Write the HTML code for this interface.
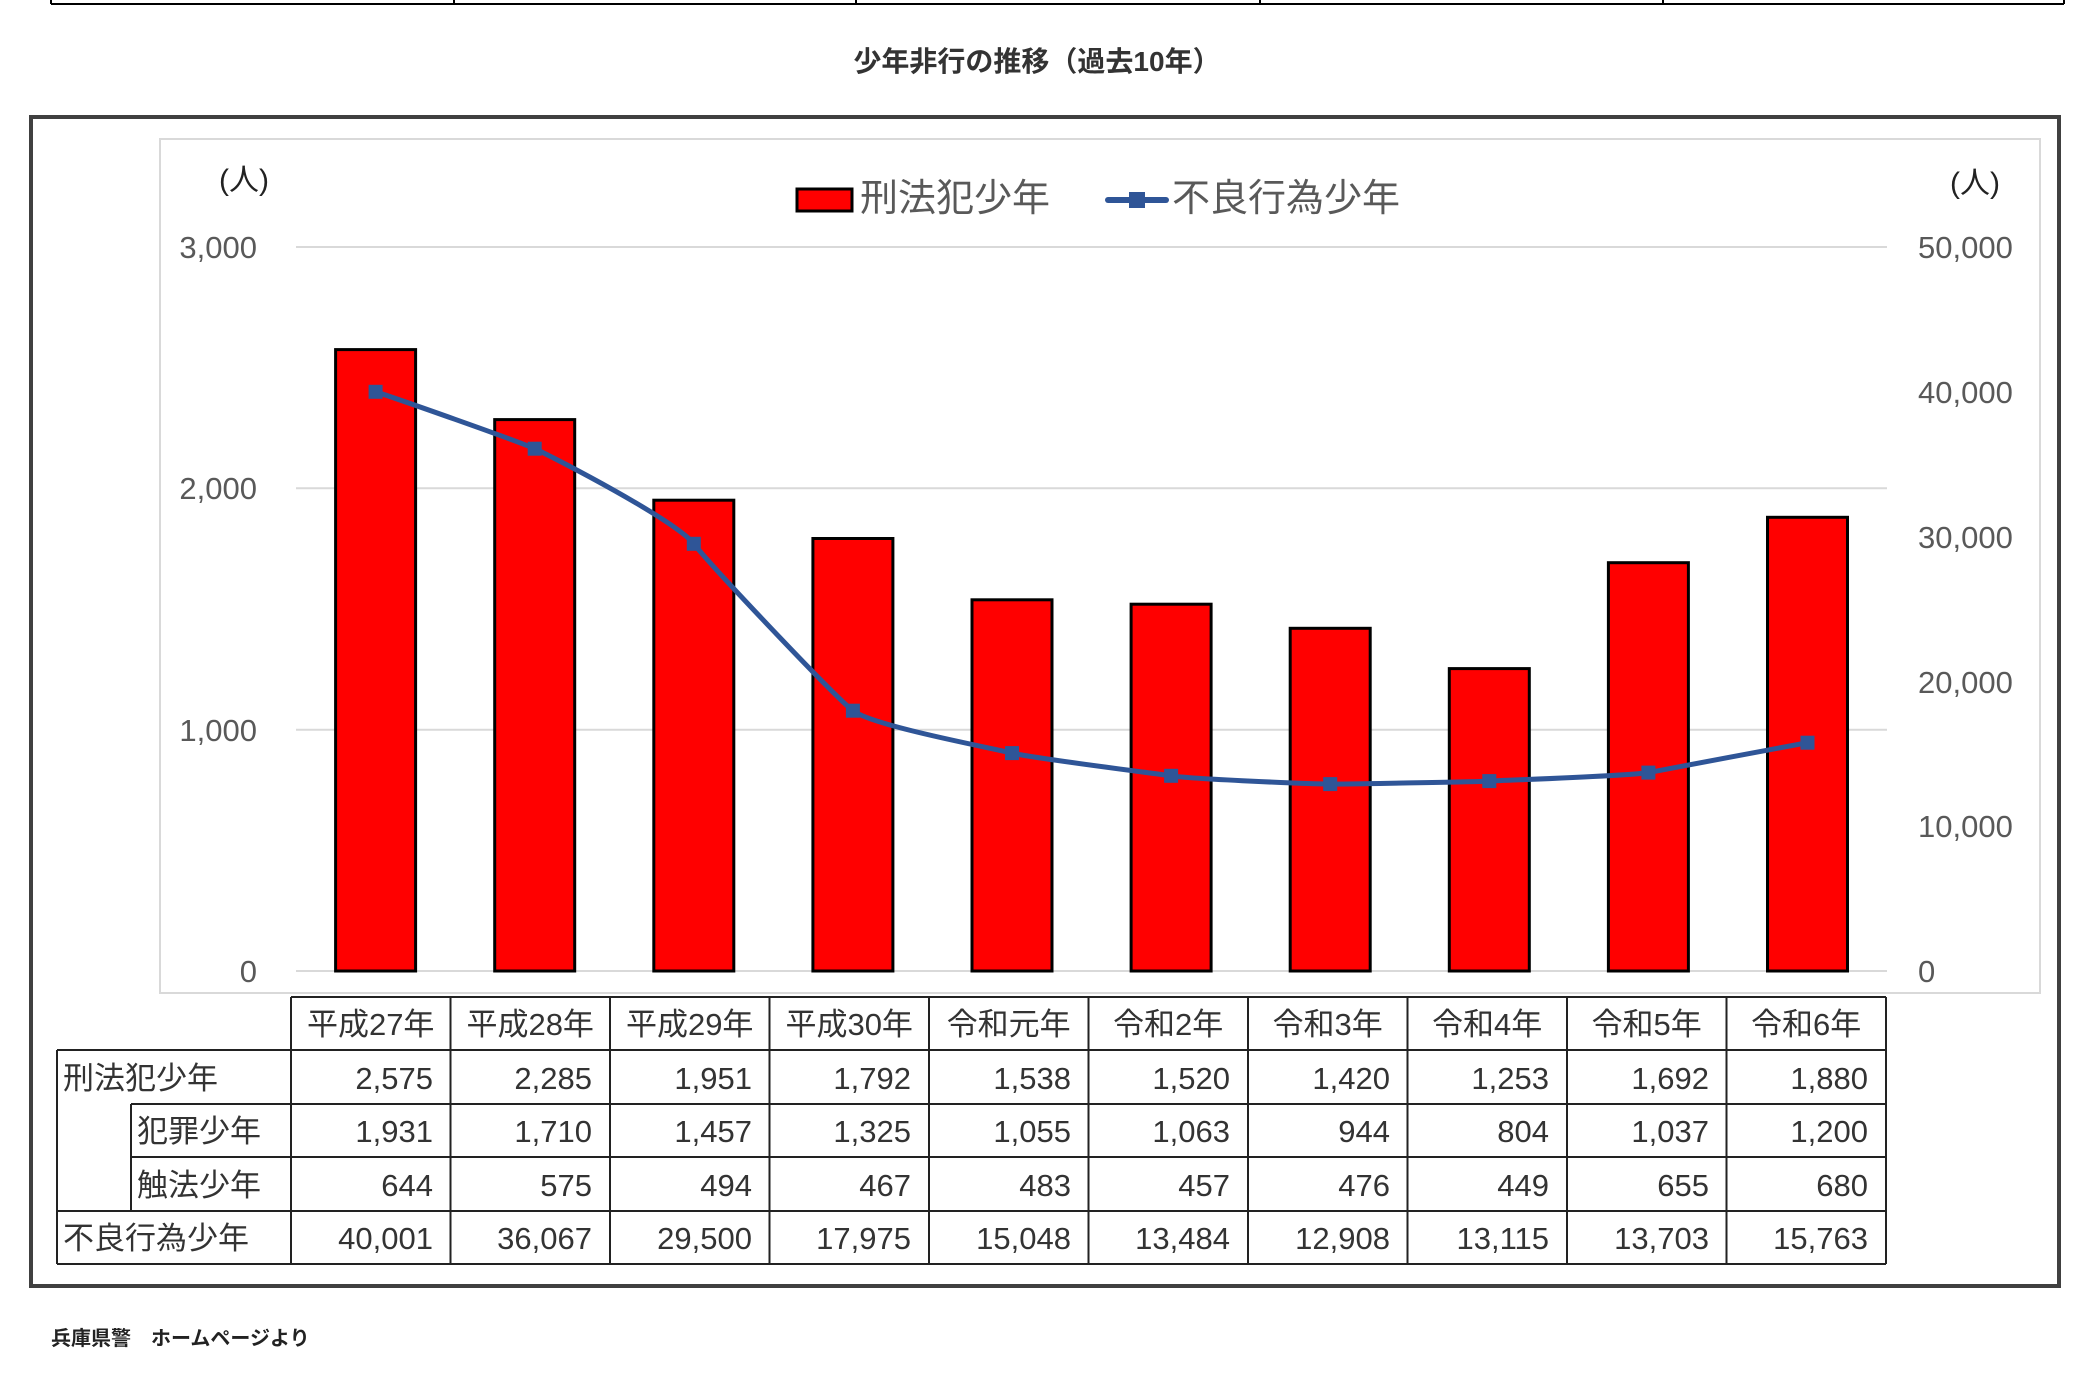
<!DOCTYPE html>
<html><head><meta charset="utf-8"><style>
html,body{margin:0;padding:0;background:#fff;}
svg{display:block;}
text{font-family:"Liberation Sans","Noto Sans CJK JP",sans-serif;}
</style></head><body>
<svg width="2087" height="1379" viewBox="0 0 2087 1379" xmlns="http://www.w3.org/2000/svg">
<g stroke="#000" stroke-width="2">
<line x1="51" y1="4" x2="2064" y2="4"/>
<line x1="51" y1="0" x2="51" y2="4"/><line x1="454" y1="0" x2="454" y2="4"/><line x1="856" y1="0" x2="856" y2="4"/><line x1="1260" y1="0" x2="1260" y2="4"/><line x1="1663" y1="0" x2="1663" y2="4"/><line x1="2064" y1="0" x2="2064" y2="4"/>
</g>
<text x="1037" y="71" font-size="28" font-weight="bold" fill="#333" text-anchor="middle">少年非行の推移（過去10年）</text>
<rect x="31" y="117" width="2028" height="1169" fill="none" stroke="#404040" stroke-width="4"/>
<rect x="160" y="139" width="1880" height="854" fill="#fff" stroke="#d9d9d9" stroke-width="2"/>
<g stroke="#d9d9d9" stroke-width="2">
<line x1="296" y1="247" x2="1887" y2="247"/>
<line x1="296" y1="488.3" x2="1887" y2="488.3"/>
<line x1="296" y1="729.7" x2="1887" y2="729.7"/>
<line x1="296" y1="971" x2="1887" y2="971"/>
</g>
<g font-size="31" fill="#595959">
<text x="257" y="258" text-anchor="end">3,000</text>
<text x="257" y="499" text-anchor="end">2,000</text>
<text x="257" y="741" text-anchor="end">1,000</text>
<text x="257" y="982" text-anchor="end">0</text>
<text x="1918" y="258">50,000</text>
<text x="1918" y="403">40,000</text>
<text x="1918" y="548">30,000</text>
<text x="1918" y="693">20,000</text>
<text x="1918" y="837">10,000</text>
<text x="1918" y="982">0</text>
</g>
<text x="244" y="190" font-size="30" fill="#222" text-anchor="middle">(人)</text>
<text x="1975" y="193" font-size="30" fill="#222" text-anchor="middle">(人)</text>
<rect x="797" y="189" width="55" height="22" fill="#f00" stroke="#000" stroke-width="3"/>
<text x="860" y="211" font-size="38" fill="#595959">刑法犯少年</text>
<line x1="1108" y1="200" x2="1166" y2="200" stroke="#2f5597" stroke-width="6" stroke-linecap="round"/>
<rect x="1129" y="192" width="16" height="16" fill="#2f5597"/>
<text x="1172" y="211" font-size="38" fill="#595959">不良行為少年</text>
<g fill="#f00" stroke="#000" stroke-width="3">
<rect x="335.6" y="349.6" width="80" height="621.4"/>
<rect x="494.7" y="419.6" width="80" height="551.4"/>
<rect x="653.8" y="500.2" width="80" height="470.8"/>
<rect x="812.9" y="538.5" width="80" height="432.5"/>
<rect x="972" y="599.8" width="80" height="371.2"/>
<rect x="1131.1" y="604.2" width="80" height="366.8"/>
<rect x="1290.2" y="628.3" width="80" height="342.7"/>
<rect x="1449.3" y="668.6" width="80" height="302.4"/>
<rect x="1608.4" y="562.7" width="80" height="408.3"/>
<rect x="1767.5" y="517.3" width="80" height="453.7"/>
</g>
<path d="M375.6,391.8 C395,398 515,440 534.7,448.7 C555,458 675,520 693.8,543.8 C713,568 833,695 852.9,710.7 C873,726 992,748 1012,753.1 C1032,758 1151,773 1171.1,775.8 C1191,779 1310,784 1330.2,784.1 C1350,784 1469,782 1489.3,781.1 C1509,780 1628,776 1648.4,772.6 C1668,769 1788,746 1807.5,742.7" fill="none" stroke="#2f5597" stroke-width="5"/>
<g fill="#2f5597">
<rect x="368.6" y="384.8" width="14" height="14"/>
<rect x="527.7" y="441.7" width="14" height="14"/>
<rect x="686.8" y="536.8" width="14" height="14"/>
<rect x="845.9" y="703.7" width="14" height="14"/>
<rect x="1005" y="746.1" width="14" height="14"/>
<rect x="1164.1" y="768.8" width="14" height="14"/>
<rect x="1323.2" y="777.1" width="14" height="14"/>
<rect x="1482.3" y="774.1" width="14" height="14"/>
<rect x="1641.4" y="765.6" width="14" height="14"/>
<rect x="1800.5" y="735.7" width="14" height="14"/>
</g>
<g stroke="#222" stroke-width="2" fill="none">
<line x1="291" y1="997" x2="1886" y2="997"/>
<line x1="57" y1="1050" x2="1886" y2="1050"/>
<line x1="131" y1="1104" x2="1886" y2="1104"/>
<line x1="131" y1="1157" x2="1886" y2="1157"/>
<line x1="57" y1="1211" x2="1886" y2="1211"/>
<line x1="57" y1="1264" x2="1886" y2="1264"/>
<line x1="57" y1="1050" x2="57" y2="1264"/>
<line x1="131" y1="1104" x2="131" y2="1211"/>
<line x1="291" y1="997" x2="291" y2="1264"/>
<line x1="450.5" y1="997" x2="450.5" y2="1264"/>
<line x1="610" y1="997" x2="610" y2="1264"/>
<line x1="769.5" y1="997" x2="769.5" y2="1264"/>
<line x1="929" y1="997" x2="929" y2="1264"/>
<line x1="1088.5" y1="997" x2="1088.5" y2="1264"/>
<line x1="1248" y1="997" x2="1248" y2="1264"/>
<line x1="1407.5" y1="997" x2="1407.5" y2="1264"/>
<line x1="1567" y1="997" x2="1567" y2="1264"/>
<line x1="1726.5" y1="997" x2="1726.5" y2="1264"/>
<line x1="1886" y1="997" x2="1886" y2="1264"/>
</g>
<g font-size="31" fill="#333" text-anchor="middle">
<text x="370.7" y="1035">平成27年</text><text x="530.2" y="1035">平成28年</text><text x="689.7" y="1035">平成29年</text><text x="849.2" y="1035">平成30年</text><text x="1008.7" y="1035">令和元年</text><text x="1168.2" y="1035">令和2年</text><text x="1327.7" y="1035">令和3年</text><text x="1487.2" y="1035">令和4年</text><text x="1646.7" y="1035">令和5年</text><text x="1806.2" y="1035">令和6年</text>
</g>
<g font-size="31" fill="#333">
<text x="63" y="1089">刑法犯少年</text>
<text x="137" y="1142">犯罪少年</text>
<text x="137" y="1196">触法少年</text>
<text x="63" y="1249">不良行為少年</text>
</g>
<g font-size="31" fill="#333" text-anchor="end">
<text x="433" y="1089">2,575</text><text x="592" y="1089">2,285</text><text x="752" y="1089">1,951</text><text x="911" y="1089">1,792</text><text x="1071" y="1089">1,538</text><text x="1230" y="1089">1,520</text><text x="1390" y="1089">1,420</text><text x="1549" y="1089">1,253</text><text x="1709" y="1089">1,692</text><text x="1868" y="1089">1,880</text>
<text x="433" y="1142">1,931</text><text x="592" y="1142">1,710</text><text x="752" y="1142">1,457</text><text x="911" y="1142">1,325</text><text x="1071" y="1142">1,055</text><text x="1230" y="1142">1,063</text><text x="1390" y="1142">944</text><text x="1549" y="1142">804</text><text x="1709" y="1142">1,037</text><text x="1868" y="1142">1,200</text>
<text x="433" y="1196">644</text><text x="592" y="1196">575</text><text x="752" y="1196">494</text><text x="911" y="1196">467</text><text x="1071" y="1196">483</text><text x="1230" y="1196">457</text><text x="1390" y="1196">476</text><text x="1549" y="1196">449</text><text x="1709" y="1196">655</text><text x="1868" y="1196">680</text>
<text x="433" y="1249">40,001</text><text x="592" y="1249">36,067</text><text x="752" y="1249">29,500</text><text x="911" y="1249">17,975</text><text x="1071" y="1249">15,048</text><text x="1230" y="1249">13,484</text><text x="1390" y="1249">12,908</text><text x="1549" y="1249">13,115</text><text x="1709" y="1249">13,703</text><text x="1868" y="1249">15,763</text>
</g>
<text x="51" y="1345" font-size="20" font-weight="bold" fill="#222">兵庫県警　ホームページより</text>
</svg>
</body></html>
